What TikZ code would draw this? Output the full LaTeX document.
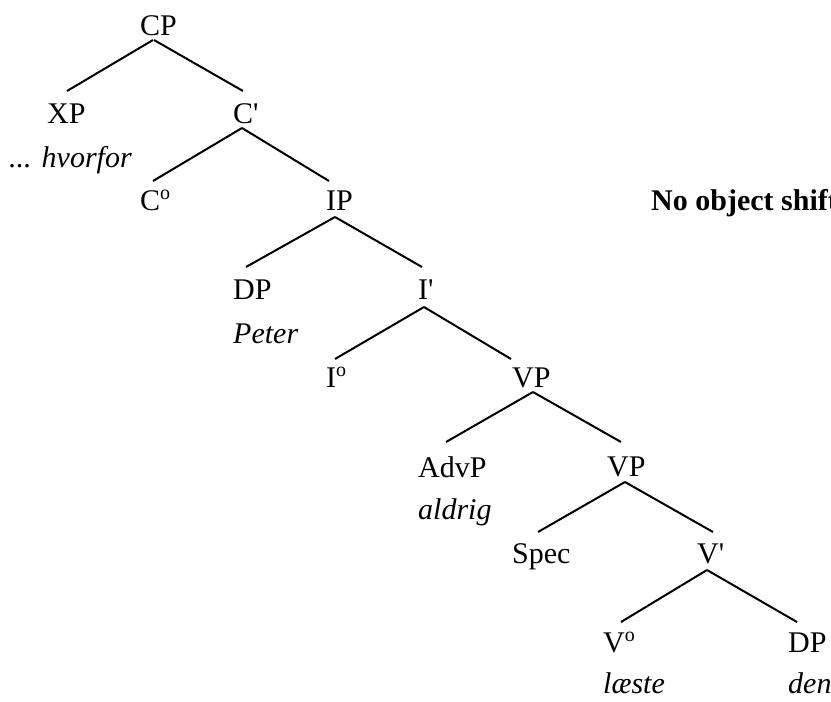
\documentclass[tikz,border=0pt]{standalone}
\usepackage{fontspec}
\setmainfont{Liberation Serif}[Ligatures=TeXOff]
\newcommand{\zerobar}{{\fontsize{20}{22}\selectfont\raisebox{10.5pt}{o}}}
\begin{document}
\begin{tikzpicture}[x=1pt,y=-1pt,
  lbl/.style={anchor=base west,inner sep=0pt,font=\fontsize{30}{36}\selectfont},
  ex/.style={lbl,font=\fontsize{30}{36}\selectfont\itshape},
  ttl/.style={lbl,font=\fontsize{30}{36}\selectfont\bfseries},
  br/.style={line width=2pt}]
\useasboundingbox (0,0) rectangle (831,702);
\clip (0,0) rectangle (831,702);
\node[lbl] (cp) at (140,35) {CP};
\node[lbl] (xp) at (47,123) {XP};
\node[lbl] (c1) at (233,123) {C'};
\node[ex] (hvorfor) at (9,167) {... hvorfor};
\node[lbl] (c0) at (140,210) {C\zerobar};
\node[lbl] (ip) at (326,210) {IP};
\node[ttl] (title) at (651,210) {No object shift};
\node[lbl] (dp1) at (233,299) {DP};
\node[lbl] (i1) at (418,299) {I'};
\node[ex] (peter) at (233,343) {Peter};
\node[lbl] (i0) at (326,387) {I\zerobar};
\node[lbl] (vp1) at (512,387) {VP};
\node[lbl] (advp) at (418,477) {AdvP};
\node[lbl] (vp2) at (607,476) {VP};
\node[ex] (aldrig) at (418,519) {aldrig};
\node[lbl] (spec) at (512,563) {Spec};
\node[lbl] (v1) at (697,563) {V'};
\node[lbl] (v0) at (603,652) {V\zerobar};
\node[lbl] (dp2) at (788,652) {DP};
\node[ex] (laeste) at (603,693) {læste};
\node[ex] (den) at (788,693) {den};
\draw[br] ([shift={(13,5)}]cp.base west) -- ([shift={(20,-32)}]xp.base west);
\draw[br] ([shift={(14,5)}]cp.base west) -- ([shift={(10,-32)}]c1.base west);
\draw[br] ([shift={(9,5)}]c1.base west) -- ([shift={(13,-29)}]c0.base west);
\draw[br] ([shift={(9,5)}]c1.base west) -- ([shift={(3,-29)}]ip.base west);
\draw[br] ([shift={(9,7)}]ip.base west) -- ([shift={(13,-32)}]dp1.base west);
\draw[br] ([shift={(9,7)}]ip.base west) -- ([shift={(4,-32)}]i1.base west);
\draw[br] ([shift={(6,8)}]i1.base west) -- ([shift={(9,-28)}]i0.base west);
\draw[br] ([shift={(6,8)}]i1.base west) -- ([shift={(-1,-28)}]vp1.base west);
\draw[br] ([shift={(21,5)}]vp1.base west) -- ([shift={(28,-35)}]advp.base west);
\draw[br] ([shift={(21,5)}]vp1.base west) -- ([shift={(14,-34)}]vp2.base west);
\draw[br] ([shift={(18,6)}]vp2.base west) -- ([shift={(26,-31)}]spec.base west);
\draw[br] ([shift={(18,6)}]vp2.base west) -- ([shift={(16,-31)}]v1.base west);
\draw[br] ([shift={(10,7)}]v1.base west) -- ([shift={(18,-30)}]v0.base west);
\draw[br] ([shift={(10,7)}]v1.base west) -- ([shift={(9,-30)}]dp2.base west);
\end{tikzpicture}
\end{document}
